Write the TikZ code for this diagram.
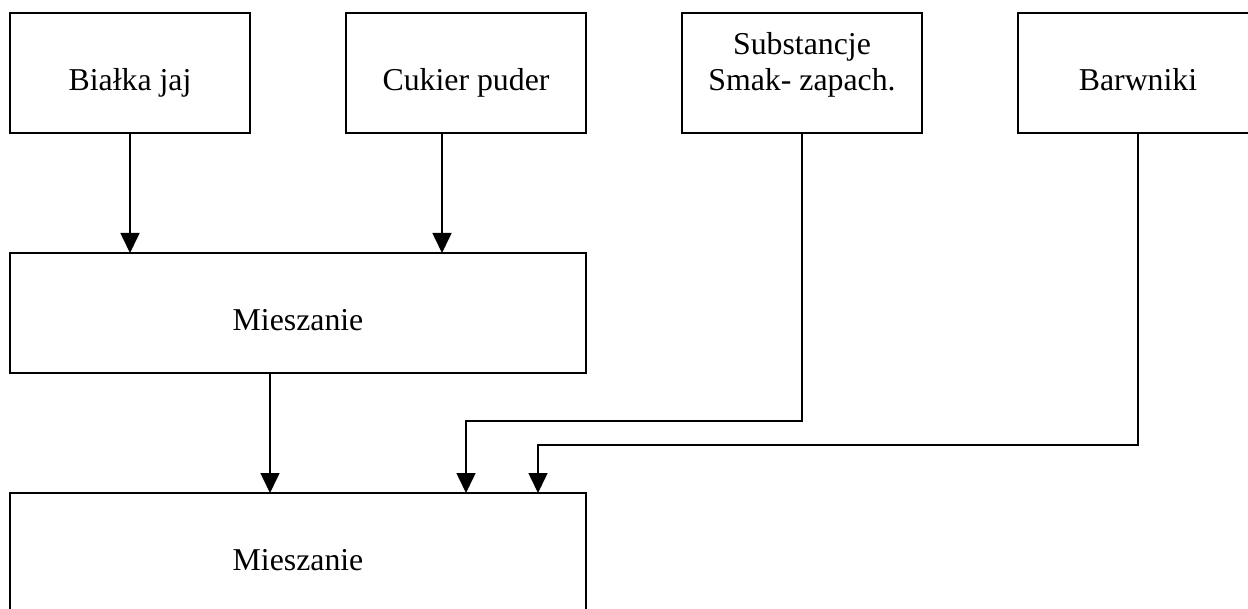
\documentclass[tikz,border=0pt]{standalone}
\usepackage{fontspec}
\setmainfont{Liberation Serif}
\usetikzlibrary{arrows.meta,positioning}

\begin{document}
\begin{tikzpicture}[x=1pt,y=-1pt]
   \tikzstyle{box}=[draw,line width=1.6pt,rectangle,inner sep=0pt,outer sep=0pt,minimum width=240pt,
      text height=77.5pt,text depth=42.5pt,align=center,font=\fontsize{31.8}{36}\selectfont]
   \tikzstyle{wide}=[box,minimum width=576pt]
   \tikzstyle{ar}=[line width=1.6pt,-{Triangle[length=20pt,width=19pt]}]

   \clip (0,0) rectangle (1248,609);

   \node (bial) [box] at (130,73) {Białka jaj};
   \node (cuk) [box,right=96pt of bial] {Cukier puder};
   \node (sub) [box,right=96pt of cuk] {Substancje\\Smak- zapach.};
   \node (barw) [box,right=96pt of sub] {Barwniki};
   \node (mix1) [wide,below=120pt of bial.south west,anchor=north west] {Mieszanie};
   \node (mix2) [wide,below=120pt of mix1.south west,anchor=north west] {Mieszanie};

   \coordinate (k1) at (466,421);
   \coordinate (k2) at (538,445);

   \draw [ar] (bial) -- (bial |- mix1.north);
   \draw [ar] ([xshift=-24pt]cuk.south) -- ([xshift=-24pt]cuk.south |- mix1.north);
   \draw [ar] ([xshift=-28pt]mix1.south) -- ([xshift=-28pt]mix1.south |- mix2.north);
   \draw [ar] (sub.south) |- (k1) -- (k1 |- mix2.north);
   \draw [ar] (barw.south) |- (k2) -- (k2 |- mix2.north);
\end{tikzpicture}
\end{document}
